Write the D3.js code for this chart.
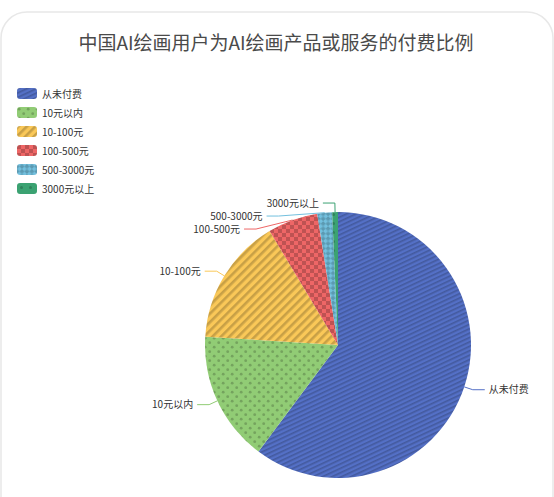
<!DOCTYPE html>
<html>
<head>
<meta charset="utf-8">
<script src="https://cdn.jsdelivr.net/npm/d3@7"></script>
<style>
  html, body { margin: 0; padding: 0; background: #fff; }
  svg { display: block; font-family: "Noto Sans CJK SC", "Noto Sans", sans-serif; }
</style>
</head>
<body>
<svg width="554" height="497"></svg>
<script>
// chart data
const categories = ["从未付费", "10元以内", "10-100元", "100-500元", "500-3000元", "3000元以上"];
const shares = [60.2, 15.8, 15.4, 6.1, 1.8, 0.7];
const colors = ["#5470c6", "#91cc75", "#fac858", "#ee6666", "#73c0de", "#3ba272"];
const title = "中国AI绘画用户为AI绘画产品或服务的付费比例";

const svg = d3.select("svg");
const W = 554, H = 497;
const cx = 338, cy = 345, r = 133;
const len1 = 9, len2 = 12;
const decal = "rgba(0,0,0,0.2)";

// card outline
svg.append("rect")
    .attr("x", 1).attr("y", 12)
    .attr("width", W - 2).attr("height", H + 40)
    .attr("rx", 26)
    .attr("fill", "#fff")
    .attr("stroke", "#e8e8e8")
    .attr("stroke-width", 1.5);

// decal patterns, one per series
const defs = svg.append("defs");
function pattern(i, size, rot) {
    let p = defs.append("pattern")
        .attr("id", "dec" + i)
        .attr("patternUnits", "userSpaceOnUse")
        .attr("width", size).attr("height", size);
    if (rot) p.attr("patternTransform", `rotate(${rot})`);
    p.append("rect").attr("width", size).attr("height", size).attr("fill", colors[i]);
    return p;
}
// stripes
let p0 = pattern(0, 4, -25);
p0.append("rect").attr("y", 0).attr("width", 4).attr("height", 1.6).attr("fill", decal);
// dots
let p1 = pattern(1, 9, 0);
p1.append("circle").attr("cx", 2.2).attr("cy", 2.2).attr("r", 1.4).attr("fill", decal);
p1.append("circle").attr("cx", 6.7).attr("cy", 6.7).attr("r", 1.4).attr("fill", decal);
// wide stripes
let p2 = pattern(2, 6, -45);
p2.append("rect").attr("y", 0).attr("width", 6).attr("height", 2.6).attr("fill", decal);
// checkerboard
let p3 = pattern(3, 8, 0);
p3.append("rect").attr("width", 4).attr("height", 4).attr("fill", decal);
p3.append("rect").attr("x", 4).attr("y", 4).attr("width", 4).attr("height", 4).attr("fill", decal);
// diamonds
let p4 = pattern(4, 7, 45);
p4.append("rect").attr("width", 3.5).attr("height", 3.5).attr("fill", decal);
p4.append("rect").attr("x", 3.5).attr("y", 3.5).attr("width", 3.5).attr("height", 3.5).attr("fill", decal);
// dots
let p5 = pattern(5, 9, 0);
p5.append("circle").attr("cx", 4.5).attr("cy", 4.5).attr("r", 1.5).attr("fill", decal);

// title
svg.append("text")
    .attr("x", 276).attr("y", 50)
    .attr("text-anchor", "middle")
    .attr("font-size", 19)
    .attr("fill", "#4a4a4a")
    .text(title);

// legend
const legend = svg.append("g").attr("transform", "translate(17,88)");
const items = legend.selectAll("g").data(categories).enter().append("g")
    .attr("transform", (d, i) => `translate(0,${i * 19})`);
items.append("rect")
    .attr("width", 20).attr("height", 11)
    .attr("rx", 3)
    .attr("fill", (d, i) => `url(#dec${i})`);
items.append("text")
    .attr("x", 25).attr("y", 9.5)
    .attr("font-size", 10)
    .attr("fill", "#333")
    .text(d => d);

// pie
const data = categories.map((c, i) => ({name: c, value: shares[i], i: i}));
const pie = d3.pie().value(d => d.value).sort(null);
const arcs = pie(data);
const arc = d3.arc().innerRadius(0).outerRadius(r);

const g = svg.append("g").attr("transform", `translate(${cx},${cy})`);
g.selectAll("path.slice").data(arcs).enter().append("path")
    .attr("class", "slice")
    .attr("d", arc)
    .attr("fill", d => `url(#dec${d.data.i})`);

// label layout: push overlapping labels apart, then place them back on the outer ring
const R = r + len1;
let labels = arcs.map(a => {
    let m = (a.startAngle + a.endAngle) / 2;
    let sx = Math.sin(m), sy = -Math.cos(m);
    return {
        name: a.data.name, i: a.data.i,
        left: sx < 0,
        p1: [sx * r, sy * r],
        y: sy * R
    };
});
[true, false].forEach(side => {
    let s = labels.filter(l => l.left === side).sort((a, b) => a.y - b.y);
    for (let k = 1; k < s.length; k++) {
        if (s[k].y < s[k - 1].y + 13) s[k].y = s[k - 1].y + 13;
    }
});
labels.forEach(l => {
    let dx = Math.sqrt(Math.max(0, R * R - l.y * l.y));
    let x2 = l.left ? -dx : dx;
    l.p2 = [x2, l.y];
    l.p3 = [x2 + (l.left ? -len2 : len2), l.y];
});

g.selectAll("polyline").data(labels).enter().append("polyline")
    .attr("points", d => [d.p1, d.p2, d.p3].map(p => p.join(",")).join(" "))
    .attr("fill", "none")
    .attr("stroke", d => colors[d.i])
    .attr("stroke-width", 1);

g.selectAll("text.lbl").data(labels).enter().append("text")
    .attr("class", "lbl")
    .attr("x", d => d.p3[0] + (d.left ? -4 : 4))
    .attr("y", d => d.p3[1])
    .attr("dy", "0.35em")
    .attr("text-anchor", d => d.left ? "end" : "start")
    .attr("font-size", 10)
    .attr("fill", "#333")
    .text(d => d.name);
</script>
</body>
</html>
